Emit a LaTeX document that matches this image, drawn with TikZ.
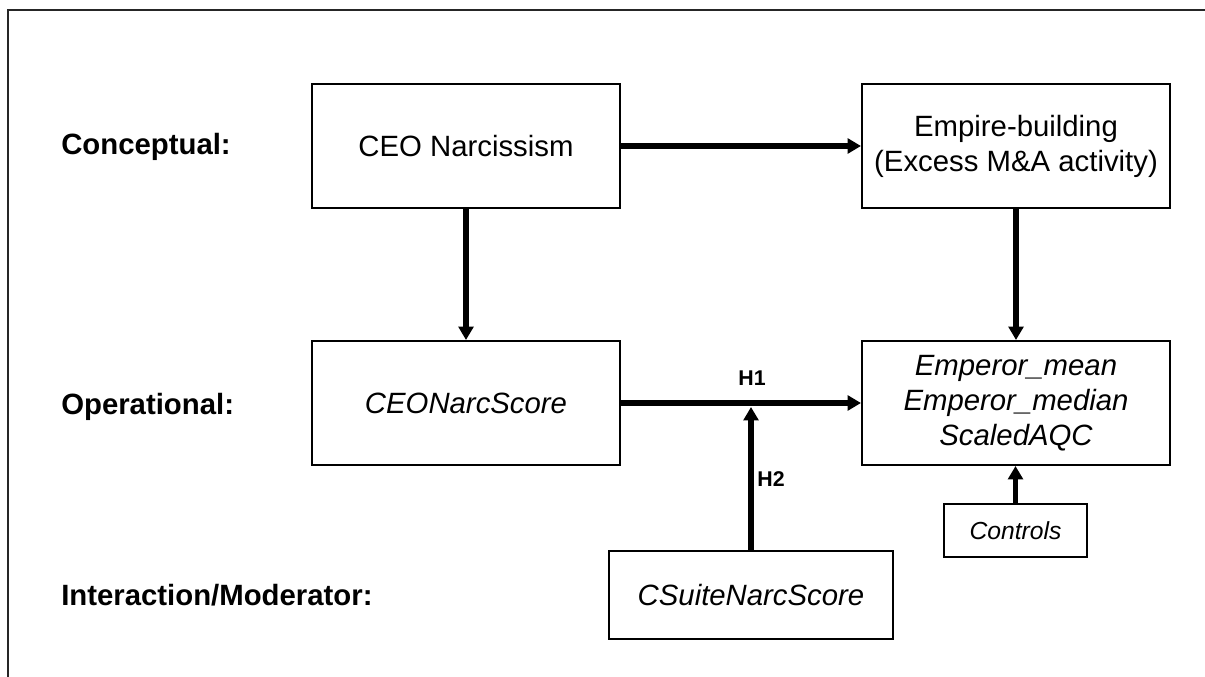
\documentclass[tikz,border=0pt]{standalone}
\usepackage{fontspec}
\setmainfont{Liberation Sans}
\usetikzlibrary{arrows.meta}
\begin{document}
\begin{tikzpicture}[x=0.75pt,y=-0.75pt,
  box/.style={draw, line width=1.5pt, align=center, inner sep=0pt,
    font=\fontsize{22}{26.25}\selectfont},
  bigbox/.style={box, minimum width=231pt, minimum height=93pt},
  lab/.style={anchor=west, inner sep=0pt, font=\fontsize{22}{26}\selectfont\bfseries},
  hlab/.style={inner sep=0pt, font=\fontsize{16}{19}\selectfont\bfseries},
  arr/.style={line width=4pt, -{Triangle[length=10pt,width=11pt]}}]
\useasboundingbox (0,0) rectangle (1205,677);
\draw[line width=0.8pt, black!85] (1205,10) -- (8,10) -- (8,677);

\node[lab] (l1) at (61,147) {Conceptual:};
\node[lab] (l2) at (61,407) {Operational:};
\node[lab] (l3) at (61,595) {Interaction/Moderator:};

\node[bigbox] (ceo) at (466,146) {CEO Narcissism};
\node[bigbox] (emp) at (1016,146) {Empire-building\\(Excess M\&A activity)};
\node[bigbox] (ceons) at (466,403) {\itshape CEONarcScore};
\node[bigbox] (emperor) at (1016,403) {\itshape Emperor\_mean\\\itshape Emperor\_median\\\itshape ScaledAQC};
\node[box, minimum width=213pt, minimum height=66pt] (csuite) at (751,595) {\itshape CSuiteNarcScore};
\node[box, minimum width=107.25pt, minimum height=39.75pt,
  font=\fontsize{18.5}{22}\selectfont\itshape] (controls) at (1015.5,530.5) {Controls};

\coordinate (j) at (751,403);

\draw[arr] (ceo.east) -- (emp.west);
\draw[arr] (ceo.south) -- (ceons.north);
\draw[arr] (emp.south) -- (emperor.north);
\draw[arr] (ceons.east) -- (emperor.west);
\draw[arr, shorten >=3pt] (csuite.north) -- (j);
\draw[arr] (controls.north) -- (controls.north |- emperor.south);

\node[hlab] (h1) at (752,378) {H1};
\node[hlab] (h2) at (771,479) {H2};
\end{tikzpicture}
\end{document}
